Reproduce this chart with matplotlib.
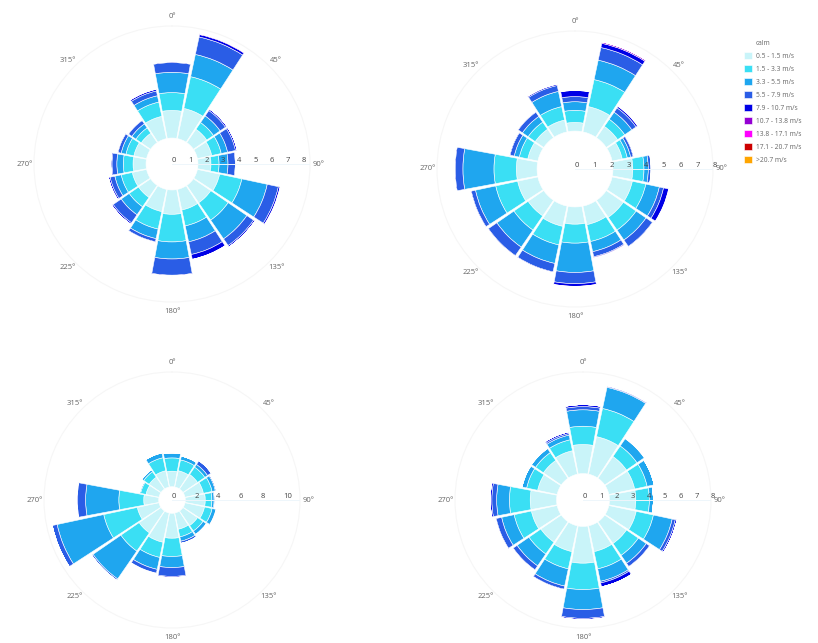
import numpy as np
import matplotlib.pyplot as plt

plt.rcParams['font.family'] = ['Open Sans', 'DejaVu Sans']

# 16 compass directions, clockwise from north
directions = ['N', 'NNE', 'NE', 'ENE', 'E', 'ESE', 'SE', 'SSE',
              'S', 'SSW', 'SW', 'WSW', 'W', 'WNW', 'NW', 'NNW']
direction_deg = [0, 22.5, 45, 67.5, 90, 112.5, 135, 157.5,
                 180, 202.5, 225, 247.5, 270, 292.5, 315, 337.5]

speed_bins = ['calm', '0.5 - 1.5 m/s', '1.5 - 3.3 m/s', '3.3 - 5.5 m/s',
              '5.5 - 7.9 m/s', '7.9 - 10.7 m/s', '10.7 - 13.8 m/s',
              '13.8 - 17.1 m/s', '17.1 - 20.7 m/s', '>20.7 m/s']
bin_colors = ['#ffffff', '#c9f4f9', '#3adff4', '#1fa6ef', '#2a5de6',
              '#0000e6', '#9400d3', '#ff00ff', '#cc0000', '#ffa500']

# frequency (%) per speed bin (rows) and direction (columns)
top_left = [
    [1.6, 1.6, 1.6, 1.6, 1.6, 1.6, 1.6, 1.6, 1.6, 1.6, 1.6, 1.6, 1.6, 1.6, 1.6, 1.6],
    [1.7, 1.9, 1.0, 0.9, 0.8, 1.4, 1.3, 1.3, 1.5, 1.4, 0.9, 0.9, 0.8, 0.8, 0.7, 1.4],
    [1.1, 2.0, 0.5, 0.6, 0.5, 1.4, 1.3, 1.0, 1.7, 1.1, 0.7, 0.7, 0.6, 0.5, 0.4, 0.9],
    [1.25, 1.4, 0.5, 0.4, 0.55, 1.6, 1.4, 1.0, 1.05, 0.6, 0.6, 0.4, 0.4, 0.3, 0.3, 0.4],
    [0.6, 1.1, 0.4, 0.5, 0.45, 0.7, 0.5, 0.8, 1.0, 0.2, 0.6, 0.3, 0.3, 0.2, 0.25, 0.3],
    [0.05, 0.15, 0.1, 0.1, 0.05, 0.1, 0.1, 0.3, 0.05, 0.05, 0.1, 0.1, 0.07, 0.05, 0.05, 0.1],
    [0, 0.05, 0, 0, 0, 0.03, 0, 0.02, 0, 0, 0, 0, 0, 0, 0, 0.02],
    [0, 0, 0, 0, 0, 0, 0, 0, 0, 0, 0, 0, 0, 0, 0, 0],
    [0, 0, 0, 0, 0, 0, 0, 0, 0, 0, 0, 0, 0, 0, 0, 0],
    [0, 0, 0, 0, 0, 0, 0, 0, 0, 0, 0, 0, 0, 0, 0, 0],
]
top_right = [
    [2.2, 2.2, 2.2, 2.2, 2.2, 2.2, 2.2, 2.2, 2.2, 2.2, 2.2, 2.2, 2.2, 2.2, 2.2, 2.2],
    [0.5, 1.5, 0.8, 0.6, 1.15, 1.2, 1.2, 1.1, 1.0, 1.2, 1.1, 1.2, 1.2, 0.6, 0.6, 0.7],
    [0.7, 1.6, 0.5, 0.3, 0.65, 0.8, 0.9, 1.0, 1.1, 1.1, 1.0, 1.3, 1.3, 0.5, 0.5, 0.8],
    [0.5, 1.15, 0.5, 0.2, 0.25, 0.8, 0.7, 0.6, 1.7, 1.1, 1.2, 1.2, 1.8, 0.3, 0.4, 0.9],
    [0.3, 0.75, 0.3, 0.15, 0.15, 0.25, 0.45, 0.3, 0.65, 0.5, 0.6, 0.25, 0.45, 0.25, 0.3, 0.35],
    [0.35, 0.25, 0.1, 0.05, 0.02, 0.3, 0.05, 0.05, 0.15, 0.05, 0.05, 0.05, 0.05, 0.05, 0.05, 0.07],
    [0.02, 0.08, 0.03, 0, 0, 0.03, 0, 0.04, 0.03, 0, 0, 0, 0, 0, 0, 0.02],
    [0, 0, 0, 0, 0, 0, 0, 0, 0, 0, 0, 0, 0, 0, 0, 0],
    [0, 0, 0, 0, 0, 0, 0, 0, 0, 0, 0, 0, 0, 0, 0, 0],
    [0, 0, 0, 0, 0, 0, 0, 0, 0, 0, 0, 0, 0, 0, 0, 0],
]
bottom_left = [
    [1.2, 1.2, 1.2, 1.2, 1.2, 1.2, 1.2, 1.2, 1.2, 1.2, 1.2, 1.2, 1.2, 1.2, 1.2, 1.2],
    [1.4, 1.5, 1.6, 1.7, 1.8, 1.8, 1.6, 1.5, 2.25, 2.7, 2.4, 2.0, 1.35, 1.2, 1.3, 1.5],
    [1.2, 1.0, 0.8, 0.8, 0.6, 0.7, 0.6, 0.7, 1.65, 1.4, 2.0, 3.1, 2.25, 0.5, 0.6, 1.2],
    [0.45, 0.35, 0.3, 0.3, 0.2, 0.35, 0.35, 0.4, 1.0, 1.1, 3.05, 4.3, 3.0, 0.1, 0.2, 0.45],
    [0, 0, 0.4, 0.1, 0.1, 0.05, 0.05, 0.2, 0.8, 0.35, 0.15, 0.45, 0.75, 0, 0, 0],
    [0, 0, 0, 0, 0, 0, 0, 0, 0.1, 0.05, 0, 0, 0.05, 0, 0, 0],
    [0, 0, 0, 0, 0, 0, 0, 0, 0, 0, 0, 0, 0, 0, 0, 0],
    [0, 0, 0, 0, 0, 0, 0, 0, 0, 0, 0, 0, 0, 0, 0, 0],
    [0, 0, 0, 0, 0, 0, 0, 0, 0, 0, 0, 0, 0, 0, 0, 0],
    [0, 0, 0, 0, 0, 0, 0, 0, 0, 0, 0, 0, 0, 0, 0, 0],
]
bottom_right = [
    [1.65, 1.65, 1.65, 1.65, 1.65, 1.65, 1.65, 1.65, 1.65, 1.65, 1.65, 1.65, 1.65, 1.65, 1.65, 1.65],
    [1.82, 2.4, 1.65, 1.65, 1.65, 1.75, 1.65, 1.65, 2.3, 1.65, 1.55, 1.65, 1.65, 1.25, 1.35, 1.5],
    [1.14, 1.8, 0.8, 0.8, 0.85, 1.1, 0.9, 1.1, 1.65, 1.1, 0.9, 1.1, 1.3, 0.7, 0.6, 0.7],
    [1.03, 1.35, 0.55, 0.45, 0.25, 1.2, 0.6, 0.8, 1.25, 1.1, 0.9, 0.8, 0.8, 0.3, 0.3, 0.3],
    [0.2, 0.05, 0.03, 0, 0, 0.2, 0.25, 0.1, 0.55, 0.2, 0.3, 0.35, 0.3, 0, 0.02, 0.1],
    [0.12, 0.05, 0, 0, 0, 0.1, 0.05, 0.25, 0.08, 0.05, 0.05, 0.05, 0.1, 0, 0, 0.1],
    [0, 0, 0, 0, 0, 0, 0, 0, 0, 0, 0, 0, 0, 0, 0, 0],
    [0, 0, 0, 0, 0, 0, 0, 0, 0, 0, 0, 0, 0, 0, 0, 0],
    [0, 0, 0, 0, 0, 0, 0, 0, 0, 0, 0, 0, 0, 0, 0, 0],
    [0, 0, 0, 0, 0, 0, 0, 0, 0, 0, 0, 0, 0, 0, 0, 0],
]

angle_labels = ['0°', '45°', '90°', '135°', '180°', '225°', '270°', '315°']

W, H = 818, 643
fig = plt.figure(figsize=(W / 100, H / 100), dpi=100)


def windrose(data, cx, cy, rmax, rticks, R=138):
    ax = fig.add_axes([(cx - R) / W, (H - cy - R) / H, 2 * R / W, 2 * R / H],
                      projection='polar')
    ax.set_theta_zero_location('N')
    ax.set_theta_direction(-1)
    theta = np.deg2rad(direction_deg)
    width = np.deg2rad(22.5) * 0.93
    base = np.zeros(len(theta))
    for vals, name, col in zip(data, speed_bins, bin_colors):
        ax.bar(theta, vals, width=width, bottom=base, color=col,
               edgecolor='white', linewidth=0.4, label=name)
        base = base + np.array(vals)
    ax.set_ylim(0, rmax)
    ax.set_yticks(rticks)
    ax.set_yticklabels([str(t) for t in rticks])
    ax.set_rlabel_position(90)
    ax.tick_params(axis='y', labelsize=5.5, labelcolor='#444444')
    ax.set_thetagrids(np.arange(0, 360, 45), angle_labels)
    ax.tick_params(axis='x', labelsize=5.5, labelcolor='#666666', pad=-4)
    ax.grid(False)
    ax.set_axisbelow(False)
    # radial axis line along east
    ax.plot([np.pi / 2, np.pi / 2], [0, rmax], color='#eef6fb', linewidth=0.7, zorder=3)
    ax.spines['polar'].set_color('#f6f6f6')
    ax.spines['polar'].set_linewidth(0.8)
    return ax


ax1 = windrose(top_left, 172, 164, 8.5, list(range(0, 9)))
windrose(top_right, 575, 169, 8.0, list(range(0, 9)))
windrose(bottom_left, 172, 500, 11.55, list(range(0, 11, 2)), R=128)
windrose(bottom_right, 583, 500, 7.95, list(range(0, 9)), R=128)

handles, labels = ax1.get_legend_handles_labels()
fig.legend(handles, labels, loc='upper left', bbox_to_anchor=(738 / W, 1 - 33 / H),
           frameon=False, fontsize=4.8, labelcolor='#666666', handlelength=1.2,
           handleheight=1.2, handletextpad=0.6, labelspacing=0.8)

fig.savefig('out.png', dpi=100)
